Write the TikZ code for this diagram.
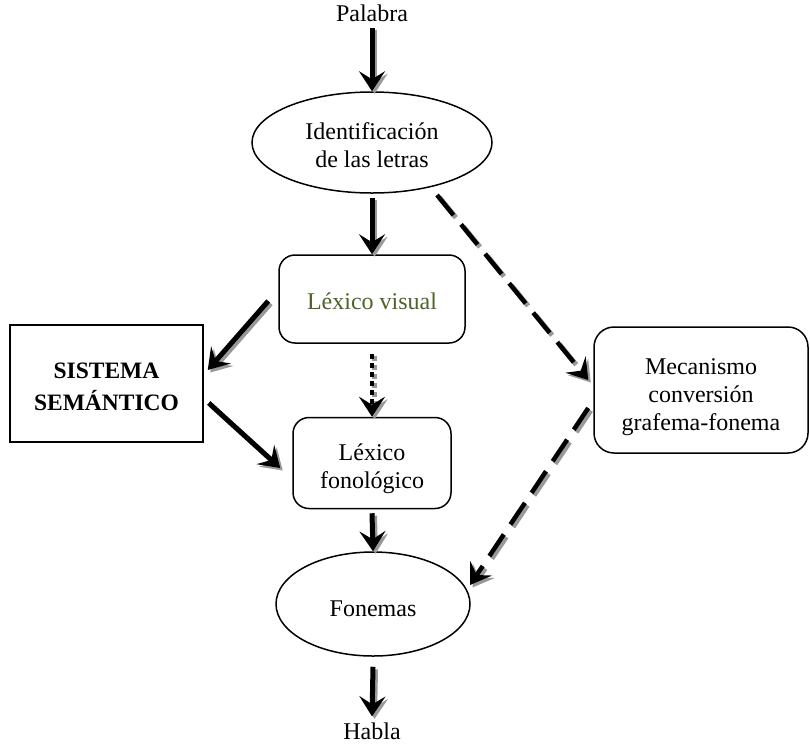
\documentclass[tikz,border=0pt]{standalone}
\usepackage{fontspec}
\setmainfont{Liberation Serif}
\usetikzlibrary{arrows.meta,shapes.geometric,calc}
\definecolor{lvgreen}{HTML}{4F6228}
\newcommand{\mylines}[2]{\raisebox{-#1pt}[\height][\depth]{\begin{tabular}{@{}c@{}}#2\end{tabular}}}
\begin{document}
\begin{tikzpicture}[x=1pt,y=-1pt,
  every node/.style={font=\fontsize{24}{28}\selectfont, inner sep=0pt},
  box/.style={draw, line width=1.5pt, rounded corners=16pt},
  ell/.style={draw, ellipse, line width=1.5pt},
  tip/.style={-{Stealth[length=20pt,width=26pt,inset=8pt]}},
  shadowed/.style={preaction={draw=black!40, line width=5pt, tip, #1, transform canvas={shift={(2.5pt,-2.5pt)}}}},
  arr/.style={line width=5pt, tip, shadowed={solid}},
  dsh/.style={line width=4.5pt, tip, dash pattern=on 26pt off 12pt, shadowed={dash pattern=on 26pt off 12pt}},
  dot/.style={line width=4.5pt, tip, dash pattern=on 5pt off 4pt, shadowed={dash pattern=on 5pt off 4pt}}]
\useasboundingbox (0,0) rectangle (810,745);
\node (pal) at (372,13) {Palabra};
\node[ell, minimum width=240pt, minimum height=101pt] (id) at (372,142.5) {\mylines{5}{Identificación\\de las letras}};
\node[box, minimum width=186pt, minimum height=88pt, text=lvgreen] (lv) at (372,299) {\mylines{5}{Léxico visual}};
\node[draw, line width=1.5pt, minimum width=193pt, minimum height=117pt, font=\bfseries\fontsize{23.5}{32}\selectfont] (sys) at (106.5,383.5) {\mylines{5}{SISTEMA\\SEMÁNTICO}};
\node[box, minimum width=158pt, minimum height=91pt] (lf) at (372,463) {\mylines{6}{Léxico\\fonológico}};
\node[box, rounded corners=20pt, minimum width=214pt, minimum height=126pt] (mec) at (701,390) {\mylines{7}{Mecanismo\\conversión\\grafema-fonema}};
\node[ell, minimum width=194pt, minimum height=104pt] (fon) at (373,604) {\mylines{7}{Fonemas}};
\node (hab) at (372,731) {Habla};
\draw[arr] ($(pal.south)+(0,6)$) -- (id.north);
\draw[arr] ($(id.south)+(0,4)$) -- (lv.north);
\draw[arr] ($(lv.west)+(-10,2)$) -- ($(sys.east)+(4,-13.5)$);
\draw[arr] ($(sys.east)+(5,19.5)$) -- ($(lf.west)+(-12,5)$);
\draw[dot] ($(lv.south)+(0,10)$) -- (lf.north);
\draw[arr] ($(lf.south)+(0,4)$) -- (fon.north);
\draw[arr] ($(fon.south)+(0,10)$) -- ($(hab.north)+(0,-6)$);
\draw[dsh] ($(id.center)+(65,52.5)$) -- ($(mec.west)+(-5,-10)$);
\draw[dsh] ($(mec.west)+(-5,18)$) -- ($(fon.center)+(97,-19)$);
\end{tikzpicture}
\end{document}
